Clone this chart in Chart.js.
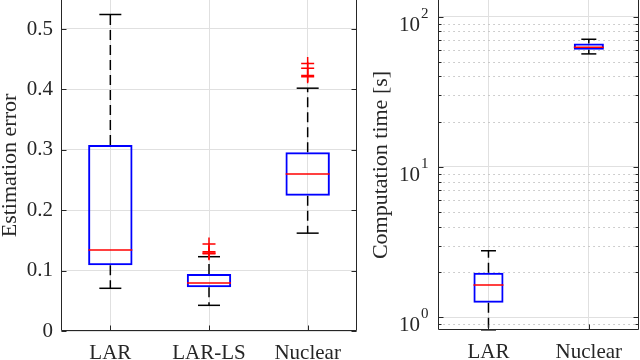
<!DOCTYPE html>
<html><head><meta charset="utf-8">
<script src="https://cdn.jsdelivr.net/npm/chart.js@4/dist/chart.umd.min.js"></script>
<style>
html,body{margin:0;padding:0;background:#fff;}
#wrap{position:relative;width:640px;height:360px;overflow:hidden;background:#fff;}
canvas{position:absolute;top:0;}
#c1{left:0;} #c2{left:360px;}
</style></head><body>
<div id="wrap"><canvas id="c1" width="360" height="360"></canvas><canvas id="c2" width="280" height="360"></canvas></div>
<script>
// ---- Estimation error (left panel) ----
const errCategories = ['LAR', 'LAR-LS', 'Nuclear'];
const errQ1     = [0.109, 0.0723, 0.224];
const errQ3     = [0.308, 0.0944, 0.296];
const errMedian = [0.134, 0.0795, 0.260];
const errLow    = [0.0707, 0.0425, 0.162];
const errHigh   = [0.524, 0.123, 0.402];
const errOutliers = [[], [0.144, 0.131, 0.129, 0.128], [0.443, 0.435, 0.423, 0.421]];
const errTicks = [0, 0.1, 0.2, 0.3, 0.4, 0.5];
const errTickLabels = ['0', '0.1', '0.2', '0.3', '0.4', '0.5'];

// ---- Computation time (right panel) ----
const timeCategories = ['LAR', 'Nuclear'];
const timeQ1     = [1.25, 60.1];
const timeQ3     = [1.98, 66.2];
const timeMedian = [1.64, 62.5];
const timeLow    = [0.825, 56.5];
const timeHigh   = [2.77, 70.7];
const timeOutliers = [[], []];
const timeMajorTicks = [1, 10, 100];
const timeTickBase = '10';
const timeTickExponents = ['0', '1', '2'];
const timeMinorTicks = [0.9, 2, 3, 4, 5, 6, 7, 8, 9, 20, 30, 40, 50, 60, 70, 80, 90];

const TXT = '#262626';
const GRID = '#e0e0e0';
const FONT = "'Liberation Serif', 'Times New Roman', serif";
Chart.defaults.font.family = FONT;
Chart.defaults.color = TXT;

function boxDatasets(cats, q1, q3, med, lo, hi, outl, boxPct, halfBox, halfCap) {
  const whisk = [];
  cats.forEach((c, i) => {
    whisk.push({x: c, y: q3[i]}, {x: c, y: hi[i]}, {x: c, y: null},
               {x: c, y: q1[i]}, {x: c, y: lo[i]}, {x: c, y: null});
  });
  const caps = [];
  cats.forEach((c, i) => { caps.push({x: c, y: lo[i]}, {x: c, y: hi[i]}); });
  const meds = cats.map((c, i) => ({x: c, y: med[i]}));
  const outs = [];
  cats.forEach((c, i) => outl[i].forEach(v => outs.push({x: c, y: v})));
  return [
    {type: 'bar', data: cats.map((c, i) => [q1[i], q3[i]]), backgroundColor: 'rgba(0,0,0,0)',
     borderColor: '#0000ff', borderWidth: 2, borderSkipped: false,
     barPercentage: boxPct, categoryPercentage: 1, order: 3},
    {type: 'line', data: whisk, borderColor: '#000', borderWidth: 1.5, borderDash: [10, 5],
     pointRadius: 0, spanGaps: false, fill: false, order: 4},
    {type: 'line', data: caps, showLine: false, pointStyle: 'line', pointRadius: halfCap,
     pointBorderColor: '#000', pointBackgroundColor: '#000', pointBorderWidth: 1.5, clip: false, order: 2},
    {type: 'line', data: meds, showLine: false, pointStyle: 'line', pointRadius: halfBox,
     pointBorderColor: '#ff0000', pointBackgroundColor: '#ff0000', pointBorderWidth: 1.5, order: 1},
    {type: 'line', data: outs, showLine: false, pointStyle: 'cross', pointRadius: 6.5,
     pointBorderColor: '#ff0000', pointBackgroundColor: '#ff0000', pointBorderWidth: 1.5, order: 0}
  ];
}

const framePlugin = {
  id: 'frame',
  beforeDatasetsDraw(chart, args, opts) {
    if (!opts.minor) return;
    const {ctx, chartArea: a} = chart;
    const ys = chart.scales.y;
    ctx.save();
    ctx.strokeStyle = '#bfbfbf';
    ctx.lineWidth = 1;
    ctx.setLineDash([1.5, 3.5]);
    opts.minor.forEach(v => {
      const y = Math.round(ys.getPixelForValue(v)) + 0.5;
      ctx.beginPath(); ctx.moveTo(a.left, y); ctx.lineTo(a.right, y); ctx.stroke();
    });
    ctx.restore();
  },
  afterDraw(chart, args, opts) {
    const {ctx, chartArea: a} = chart;
    const ys = chart.scales.y, xs = chart.scales.x;
    const L = Math.round(a.left) + 0.5, R = Math.round(a.right) - 0.5, B = Math.round(a.bottom) - 0.5;
    ctx.save();
    ctx.strokeStyle = TXT; ctx.lineWidth = 1; ctx.setLineDash([]);
    ctx.beginPath();
    ctx.moveTo(L, a.top - 2); ctx.lineTo(L, B); ctx.lineTo(R, B); ctx.lineTo(R, a.top - 2);
    ctx.stroke();
    const tick = (v, len) => {
      const y = Math.round(ys.getPixelForValue(v)) + 0.5;
      ctx.beginPath();
      ctx.moveTo(L, y); ctx.lineTo(L + len, y);
      ctx.moveTo(R, y); ctx.lineTo(R - len, y);
      ctx.stroke();
    };
    (opts.major || []).forEach(v => tick(v, 5));
    (opts.minor || []).forEach(v => tick(v, 3));
    xs.ticks.forEach((t, i) => {
      const x = Math.round(xs.getPixelForTick(i)) + 0.5;
      ctx.beginPath(); ctx.moveTo(x, B); ctx.lineTo(x, B - 5); ctx.stroke();
    });
    if (opts.logLabels) {
      ctx.fillStyle = TXT;
      ctx.textAlign = 'right';
      ctx.textBaseline = 'alphabetic';
      opts.major.forEach((v, i) => {
        const y = ys.getPixelForValue(v);
        const xr = L - 10;
        ctx.font = '15px ' + FONT;
        const exp = opts.logLabels[i];
        ctx.fillText(exp, xr, y + 1);
        const w = ctx.measureText(exp).width;
        ctx.font = '21px ' + FONT;
        ctx.fillText(timeTickBase, xr - w - 1, y + 14);
      });
    }
    ctx.restore();
  }
};

function xScale(h) {
  return {
    type: 'category', offset: true,
    grid: {offset: false, color: GRID, lineWidth: 1, drawTicks: false},
    border: {display: false},
    ticks: {color: TXT, font: {size: 21}, padding: 10, maxRotation: 0, autoSkip: false},
    afterFit: s => { s.height = h; s.paddingLeft = 0; s.paddingRight = 0; }
  };
}

new Chart(document.getElementById('c1'), {
  type: 'bar',
  data: {labels: errCategories,
         datasets: boxDatasets(errCategories, errQ1, errQ3, errMedian, errLow, errHigh, errOutliers, 0.45, 22, 11)},
  options: {
    responsive: false, animation: false, events: [], devicePixelRatio: 1,
    layout: {autoPadding: false, padding: {left: 0, right: 3, top: 0, bottom: 0}},
    plugins: {legend: {display: false}, tooltip: {enabled: false},
              frame: {major: errTicks}},
    scales: {
      x: xScale(29),
      y: {
        type: 'linear', min: 0, max: 0.548,
        afterBuildTicks: s => { s.ticks = errTicks.map(v => ({value: v})); },
        ticks: {callback: (v, i) => errTickLabels[i], color: TXT, font: {size: 21}, padding: 8, autoSkip: false},
        grid: {color: GRID, lineWidth: 1, drawTicks: false},
        border: {display: false},
        title: {display: true, text: 'Estimation error', color: TXT, font: {size: 22, lineHeight: 0.9}, padding: {top: 0, bottom: 0}},
        afterFit: s => { s.width = 61; s.paddingTop = 0; s.paddingBottom = 0; }
      }
    }
  },
  plugins: [framePlugin]
});

new Chart(document.getElementById('c2'), {
  type: 'bar',
  data: {labels: timeCategories,
         datasets: boxDatasets(timeCategories, timeQ1, timeQ3, timeMedian, timeLow, timeHigh, timeOutliers, 0.3, 15, 7.5)},
  options: {
    responsive: false, animation: false, events: [], devicePixelRatio: 1,
    layout: {autoPadding: false, padding: {left: 0, right: 1, top: 0, bottom: 0}},
    plugins: {legend: {display: false}, tooltip: {enabled: false},
              frame: {major: timeMajorTicks, minor: timeMinorTicks, logLabels: timeTickExponents}},
    scales: {
      x: xScale(30),
      y: {
        type: 'logarithmic', min: 0.823, max: 129,
        afterBuildTicks: s => { s.ticks = timeMajorTicks.map(v => ({value: v, major: true})); },
        ticks: {callback: () => '', autoSkip: false},
        grid: {color: GRID, lineWidth: 1, drawTicks: false},
        border: {display: false},
        title: {display: true, text: 'Computation time [s]', color: TXT, font: {size: 22, lineHeight: 0.9}, padding: {top: 11, bottom: 0}},
        afterFit: s => { s.width = 78.3; s.paddingTop = 0; s.paddingBottom = 0; }
      }
    }
  },
  plugins: [framePlugin]
});
</script>
</body></html>
